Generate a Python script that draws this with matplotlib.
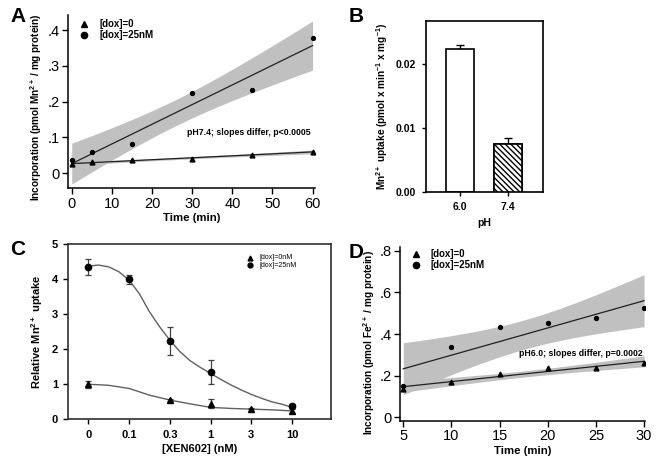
import numpy as np
import matplotlib
matplotlib.use("Agg")
import matplotlib.pyplot as plt

plt.rcParams['font.family'] = ['Liberation Sans', 'DejaVu Sans']
plt.rcParams['mathtext.fontset'] = 'custom'
plt.rcParams['mathtext.rm'] = 'Liberation Sans'
plt.rcParams['mathtext.bf'] = 'Liberation Sans:bold'
plt.rcParams['mathtext.default'] = 'regular'

# panel A: Mn2+ incorporation, pH 7.4
time_a = [0, 5, 15, 30, 45, 60]
a_dox0 = [0.025, 0.031, 0.038, 0.040, 0.052, 0.060]
a_dox25 = [0.037, 0.058, 0.083, 0.225, 0.232, 0.378]

# panel B: uptake rate by pH
ph_labels = ['6.0', '7.4']
b_rate = [0.0224, 0.0075]
b_err = [0.0006, 0.0010]

# panel C: XEN602 dose response
xen_labels = ['0', '0.1', '0.3', '1', '3', '10']
c_dox0 = [1.00, np.nan, 0.55, 0.45, 0.30, 0.25]
c_dox0_err = [0.10, np.nan, 0.04, 0.13, 0.02, 0.07]
c_dox25 = [4.35, 4.00, 2.22, 1.35, np.nan, 0.37]
c_dox25_err = [0.22, 0.13, 0.40, 0.33, np.nan, 0.07]
# fitted curves (category positions 0..5)
fit25_pos = [0, .25, .5, .75, 1, 1.25, 1.5, 1.75, 2, 2.25, 2.5, 2.75, 3, 3.25, 3.5, 3.75, 4, 4.25, 4.5, 4.75, 5]
fit25_val = [4.37, 4.40, 4.35, 4.21, 3.97, 3.59, 3.07, 2.64, 2.26, 1.93, 1.67, 1.48, 1.31, 1.14, 0.98, 0.84, 0.71, 0.60, 0.50, 0.43, 0.34]
fit0_pos = [0, .5, 1, 1.5, 2, 2.5, 3, 3.5, 4, 4.5, 5]
fit0_val = [1.00, 0.97, 0.88, 0.69, 0.55, 0.44, 0.34, 0.31, 0.29, 0.27, 0.24]

# panel D: Fe2+ incorporation, pH 6.0
time_d = [5, 10, 15, 20, 25, 30]
d_dox0 = [0.135, 0.170, 0.210, 0.235, 0.238, 0.260]
d_dox25 = [0.152, 0.339, 0.436, 0.452, 0.476, 0.525]

T_975_DF4 = 2.776  # t quantile for 95% CI, n=6


def lfitci(ax, x, y):
    x = np.asarray(x, float)
    y = np.asarray(y, float)
    slope, icpt = np.polyfit(x, y, 1)
    s = np.sqrt(np.sum((y - (icpt + slope * x)) ** 2) / (len(x) - 2))
    xs = np.linspace(x.min(), x.max(), 50)
    fit = icpt + slope * xs
    se = s * np.sqrt(1 / len(x) + (xs - x.mean()) ** 2 / np.sum((x - x.mean()) ** 2))
    ax.fill_between(xs, fit - T_975_DF4 * se, fit + T_975_DF4 * se, color='#c0c0c0', lw=0, zorder=1)
    ax.plot(xs, fit, color='#202020', lw=0.9, zorder=2)


def stata_axes(ax):
    for s in ['top', 'right']:
        ax.spines[s].set_visible(False)
    for s in ['left', 'bottom']:
        ax.spines[s].set_linewidth(1.1)
    ax.tick_params(direction='out', length=4, width=1, labelsize=10.5, pad=2)


fig = plt.figure(figsize=(6.6, 4.58), dpi=100)

# ---- A
ax = fig.add_axes([0.1026, 0.5889, 0.3747, 0.3783])
lfitci(ax, time_a, a_dox25)
lfitci(ax, time_a, a_dox0)
ax.plot(time_a, a_dox0, '^', color='black', ms=3.5, zorder=3)
ax.plot(time_a, a_dox25, 'o', color='black', ms=2.8, zorder=3)
ax.set_xlim(-1, 60.6)
ax.set_ylim(-0.042, 0.442)
ax.set_xticks([0, 10, 20, 30, 40, 50, 60])
ax.set_yticks([0, 0.1, 0.2, 0.3, 0.4])
ax.set_yticklabels(['0', '.1', '.2', '.3', '.4'])
stata_axes(ax)
ax.set_xlabel('Time (min)', fontsize=8.2, fontweight='bold', labelpad=2)
ax.set_ylabel('Incorporation (pmol Mn$^{2+}$ / mg protein)', fontsize=7.2, fontweight='bold')
ax.yaxis.set_label_coords(-0.095, 0.47)
ax.plot([3.1], [0.417], '^', color='black', ms=4.5, clip_on=False)
ax.plot([3.1], [0.386], 'o', color='black', ms=4.5, clip_on=False)
ax.text(6.8, 0.417, '[dox]=0', fontsize=7, fontweight='bold', va='center')
ax.text(6.8, 0.386, '[dox]=25nM', fontsize=7, fontweight='bold', va='center')
ax.text(59.5, 0.113, 'pH7.4; slopes differ, p<0.0005', fontsize=6.3, fontweight='bold', ha='right', va='center')
fig.text(0.016, 0.985, 'A', fontsize=15, fontweight='bold', va='top')

# ---- B
ax = fig.add_axes([0.645, 0.5801, 0.1773, 0.3747])
ax.bar([1, 2], b_rate, width=0.6, color='white', edgecolor='black', lw=1.2, zorder=2)
ax.bar([2], [b_rate[1]], width=0.6, color='white', edgecolor='black', hatch='\\\\\\\\\\\\', lw=1.2, zorder=3)
ax.errorbar([1, 2], b_rate, yerr=[[0, 0], b_err], fmt='none', ecolor='black', elinewidth=1, capsize=3, capthick=1, zorder=1)
ax.set_xlim(0.28, 2.73)
ax.set_ylim(0, 0.0268)
ax.set_xticks([1, 2])
ax.set_xticklabels(ph_labels)
ax.set_yticks([0, 0.01, 0.02])
ax.set_yticklabels(['0.00', '0.01', '0.02'])
for s in ax.spines.values():
    s.set_linewidth(1.2)
ax.tick_params(direction='out', length=3, width=1, labelsize=7.5, pad=4)
for lab in ax.get_xticklabels() + ax.get_yticklabels():
    lab.set_fontweight('bold')
ax.set_xlabel('pH', fontsize=7.5, fontweight='bold', labelpad=4)
ax.set_ylabel('Mn$^{2+}$ uptake (pmol x min$^{-1}$ x mg$^{-1}$)', fontsize=7.2, fontweight='bold', labelpad=4)
fig.text(0.528, 0.985, 'B', fontsize=15, fontweight='bold', va='top')

# ---- C
ax = fig.add_axes([0.1035, 0.0845, 0.3976, 0.3827])
pos = np.arange(len(xen_labels))
ax.plot(fit25_pos, fit25_val, color='#606060', lw=1, zorder=1)
ax.plot(fit0_pos, fit0_val, color='#606060', lw=1, zorder=1)
ax.errorbar(pos, c_dox25, yerr=c_dox25_err, fmt='o', color='black', ms=4.5, ecolor='#404040',
            elinewidth=0.9, capsize=2.5, capthick=0.9, zorder=3)
ax.errorbar(pos, c_dox0, yerr=c_dox0_err, fmt='^', color='black', ms=4.5, ecolor='#404040',
            elinewidth=0.9, capsize=2.5, capthick=0.9, zorder=3)
ax.set_xlim(-0.49, 5.95)
ax.set_ylim(0, 5)
ax.set_xticks(pos)
ax.set_xticklabels(xen_labels)
ax.set_yticks([0, 1, 2, 3, 4, 5])
for s in ax.spines.values():
    s.set_linewidth(1.2)
    s.set_color('#303030')
ax.tick_params(direction='out', length=3.5, width=1, labelsize=8, pad=4)
for lab in ax.get_xticklabels() + ax.get_yticklabels():
    lab.set_fontweight('bold')
ax.set_xlabel('[XEN602] (nM)', fontsize=8, fontweight='bold', labelpad=3)
ax.set_ylabel('Relative Mn$^{2+}$ uptake', fontsize=8, fontweight='bold', labelpad=5)
ax.plot([3.96], [4.61], '^', color='black', ms=3.5)
ax.plot([3.96], [4.40], 'o', color='black', ms=3.5)
ax.text(4.2, 4.61, '[dox]=0nM', fontsize=5, va='center')
ax.text(4.2, 4.40, '[dox]=25nM', fontsize=5, va='center')
fig.text(0.015, 0.475, 'C', fontsize=15, fontweight='bold', va='top')

# ---- D
ax = fig.add_axes([0.6061, 0.0808, 0.3712, 0.3806])
lfitci(ax, time_d, d_dox25)
lfitci(ax, time_d, d_dox0)
ax.plot(time_d, d_dox0, '^', color='black', ms=3.5, zorder=3)
ax.plot(time_d, d_dox25, 'o', color='black', ms=2.8, zorder=3)
ax.set_xlim(4.66, 30.1)
ax.set_ylim(-0.018, 0.82)
ax.set_xticks([5, 10, 15, 20, 25, 30])
ax.set_yticks([0, 0.2, 0.4, 0.6, 0.8])
ax.set_yticklabels(['0', '.2', '.4', '.6', '.8'])
stata_axes(ax)
ax.set_xlabel('Time (min)', fontsize=8.2, fontweight='bold', labelpad=2)
ax.set_ylabel('Incorporation (pmol Fe$^{2+}$ / mg protein)', fontsize=7.2, fontweight='bold')
ax.yaxis.set_label_coords(-0.092, 0.45)
ax.plot([6.32], [0.785], '^', color='black', ms=4.5, clip_on=False)
ax.plot([6.32], [0.733], 'o', color='black', ms=4.5, clip_on=False)
ax.text(7.85, 0.785, '[dox]=0', fontsize=7, fontweight='bold', va='center')
ax.text(7.85, 0.733, '[dox]=25nM', fontsize=7, fontweight='bold', va='center')
ax.text(29.9, 0.308, 'pH6.0; slopes differ, p=0.0002', fontsize=6.3, fontweight='bold', ha='right', va='center')
fig.text(0.528, 0.47, 'D', fontsize=15, fontweight='bold', va='top')

fig.savefig('out.png', dpi=100)
